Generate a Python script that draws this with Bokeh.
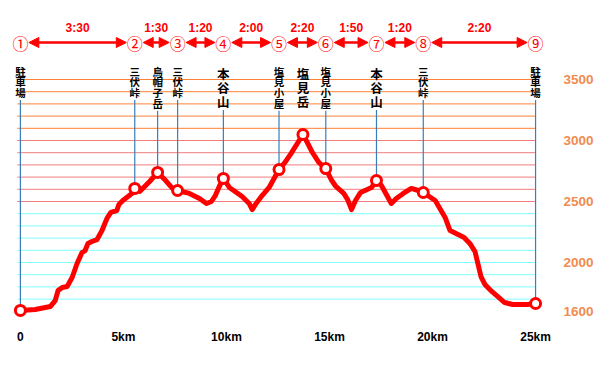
from bokeh.plotting import figure
from bokeh.models import ColumnDataSource, FixedTicker, Arrow, NormalHead, Range1d
from bokeh.core.properties import value
from bokeh.embed import file_html
from bokeh.resources import INLINE

# ---------------- data ----------------
profile_km = [0.00, 0.72, 1.45, 1.69, 1.83, 2.03, 2.27, 2.51, 2.75, 2.99, 3.14, 3.28,
              3.47, 3.72, 3.96, 4.20, 4.39, 4.68, 4.78, 4.97, 5.41, 5.55, 5.79, 6.27,
              6.66, 7.05, 7.38, 7.63, 8.20, 8.69, 9.03, 9.27, 9.46, 9.65, 9.85, 10.14,
              10.76, 11.10, 11.25, 11.44, 11.73, 12.07, 12.55, 12.84, 13.13, 13.71,
              13.95, 14.14, 14.48, 14.82, 15.11, 15.31, 15.69, 15.88, 16.07, 16.26,
              16.51, 17.04, 17.28, 17.52, 17.76, 18.00, 18.24, 18.58, 18.97, 19.31,
              19.55, 20.13, 20.61, 20.85, 21.14, 21.53, 21.81, 22.06, 22.20, 22.35,
              22.54, 22.83, 23.17, 23.50, 23.89, 24.61, 25.00]
profile_m = [1607, 1615, 1639, 1688, 1770, 1795, 1803, 1877, 1992, 2082, 2098, 2156,
             2172, 2188, 2262, 2361, 2410, 2426, 2475, 2508, 2566, 2607, 2582, 2664,
             2738, 2672, 2607, 2590, 2566, 2525, 2484, 2500, 2549, 2623, 2689, 2615,
             2541, 2484, 2434, 2484, 2549, 2615, 2762, 2820, 2893, 3049,
             2975, 2910, 2820, 2770, 2672, 2623, 2566, 2516, 2434, 2508,
             2574, 2615, 2672, 2631, 2557, 2484, 2525, 2566, 2607, 2590,
             2574, 2508, 2369, 2262, 2238, 2205, 2156, 2090, 1992, 1885,
             1820, 1770, 1721, 1672, 1656, 1656, 1664]

wp_names = ["駐車場", "三伏峠", "烏帽子岳", "三伏峠", "本谷山", "塩見小屋",
            "塩見岳", "塩見小屋", "本谷山", "三伏峠", "駐車場"]
wp_km = [0.00, 5.55, 6.66, 7.63, 9.85, 12.55, 13.71, 14.82, 17.28, 19.55, 25.00]
wp_m = [1607, 2607, 2738, 2590, 2689, 2762, 3049, 2770, 2672, 2574, 1664]
wp_big = [False, False, False, False, True, False, True, False, True, False, False]
wp_leader = [True, True, True, True, True, True, False, True, True, True, True]

stop_labels = ["①", "②", "③", "④", "⑤", "⑥", "⑦", "⑧", "⑨"]
stop_km = [0.00, 5.55, 7.63, 9.85, 12.55, 14.82, 17.28, 19.55, 25.00]
leg_times = ["3:30", "1:30", "1:20", "2:00", "2:20", "1:50", "1:20", "2:20"]

x_ticks = [0, 5, 10, 15, 20, 25]
x_tick_labels = ["0", "5km", "10km", "15km", "20km", "25km"]
y_ticks = [1600, 2000, 2500, 3000, 3500]
grid_m = [1700, 1800, 1900, 2000, 2100, 2200, 2300, 2400, 2500, 2600,
          2700, 2800, 2900, 3000, 3100, 3200, 3300, 3400, 3500]

# ---------------- geometry / mapping ----------------
W, H = 596, 377
FRAME_W, FRAME_H = 552, 325
BORDER_R, BORDER_B = W - FRAME_W, H - FRAME_H
PX_PER_KM = 20.72
PX_PER_M = 0.122
X0 = -20 / PX_PER_KM
X1 = X0 + FRAME_W / PX_PER_KM
Y_TOP = 3500 + 79 / PX_PER_M
Y_BOT = Y_TOP - FRAME_H / PX_PER_M


def m_at(page_y):
    return Y_TOP - page_y / PX_PER_M


p = figure(width=W, height=H, output_backend="svg", toolbar_location=None,
           x_range=Range1d(X0, X1), y_range=Range1d(Y_BOT, Y_TOP),
           y_axis_location="right", min_border_left=0, min_border_top=0,
           min_border_right=BORDER_R, min_border_bottom=BORDER_B)
p.outline_line_color = None
p.grid.visible = False
p.background_fill_color = "white"

# axes
p.xaxis.ticker = FixedTicker(ticks=x_ticks)
p.xaxis.major_label_overrides = {t: l for t, l in zip(x_ticks, x_tick_labels)}
p.yaxis.ticker = FixedTicker(ticks=y_ticks)
for ax in (p.xaxis, p.yaxis):
    ax.axis_line_color = None
    ax.major_tick_line_color = None
    ax.minor_tick_line_color = None
    ax.major_label_text_font = "Liberation Sans"
    ax.major_label_text_font_style = "bold"
p.xaxis.major_label_text_font_size = "12px"
p.xaxis.major_label_text_color = "black"
p.xaxis.major_label_standoff = -2
p.yaxis.major_label_text_font_size = "13.5px"
p.yaxis.major_label_text_color = "#f08c50"
p.yaxis.major_label_standoff = 8


# horizontal guide lines
def grid_color(m):
    if m > 3000:
        return "#ff8033"
    if m >= 2500:
        return "#f27d7d"
    return "#80ffff"


gx0 = -3 / PX_PER_KM
gx1 = 25.0
gsrc = ColumnDataSource(dict(x0=[gx0] * len(grid_m), x1=[gx1] * len(grid_m),
                             y=grid_m, c=[grid_color(m) for m in grid_m]))
p.segment(x0="x0", y0="y", x1="x1", y1="y", color="c", line_width=1, source=gsrc)

# waypoint labels (one character per row) and leader lines
FIRST_SMALL, SP_SMALL = 70.5, 10.8
FIRST_BIG, SP_BIG = 72.5, 14.0
lx, ly0, ly1 = [], [], []
cs = dict(x=[], y=[], t=[])
cb = dict(x=[], y=[], t=[])
for name, km, m, big, lead in zip(wp_names, wp_km, wp_m, wp_big, wp_leader):
    first, sp, d = (FIRST_BIG, SP_BIG, cb) if big else (FIRST_SMALL, SP_SMALL, cs)
    for i, ch in enumerate(name):
        d["x"].append(km)
        d["y"].append(m_at(first + i * sp))
        d["t"].append(ch)
    if lead:
        lx.append(km)
        ly0.append(m)
        ly1.append(m_at(first + (len(name) - 1) * sp + sp / 2 + 2))
p.segment(x0=lx, y0=ly0, x1=lx, y1=ly1, line_color="#3a7db8", line_width=1.2)

for d, fs in ((cs, "10.5px"), (cb, "12.5px")):
    p.text(x="x", y="y", text="t", source=ColumnDataSource(d), text_align="center",
           text_baseline="middle", text_font=value("Noto Sans CJK JP"),
           text_font_style="bold", text_font_size=fs, text_color="black")

# profile
p.line(profile_km, profile_m, line_color="#ff0000", line_width=5,
       line_join="round", line_cap="round")
p.scatter(wp_km, wp_m, size=10, marker="circle", fill_color="white",
          line_color="#ff0000", line_width=3)

# stop numbers, arrows and times
num_y = m_at(42)
p.text(x=stop_km, y=[num_y] * len(stop_km), text=stop_labels, text_align="center",
       text_baseline="middle", text_font=value("Noto Sans CJK JP"),
       text_font_size="16px", text_color="#ff0000")

gap = 8.5 / PX_PER_KM
asrc = ColumnDataSource(dict(xs=[k + gap for k in stop_km[:-1]],
                             xe=[k - gap for k in stop_km[1:]],
                             y=[num_y] * (len(stop_km) - 1)))
p.add_layout(Arrow(x_start="xs", y_start="y", x_end="xe", y_end="y", source=asrc,
                   line_color="#ff0000", line_width=2.5,
                   start=NormalHead(size=10, fill_color="#ff0000", line_color="#ff0000"),
                   end=NormalHead(size=10, fill_color="#ff0000", line_color="#ff0000")))

mid = [(a + b) / 2 for a, b in zip(stop_km[:-1], stop_km[1:])]
p.text(x=mid, y=[m_at(27)] * len(mid), text=leg_times, text_align="center",
       text_baseline="middle", text_font=value("Liberation Sans"),
       text_font_style="bold", text_font_size="12px", text_color="#ff0000")

open("out.html", "w").write(file_html(p, INLINE))
